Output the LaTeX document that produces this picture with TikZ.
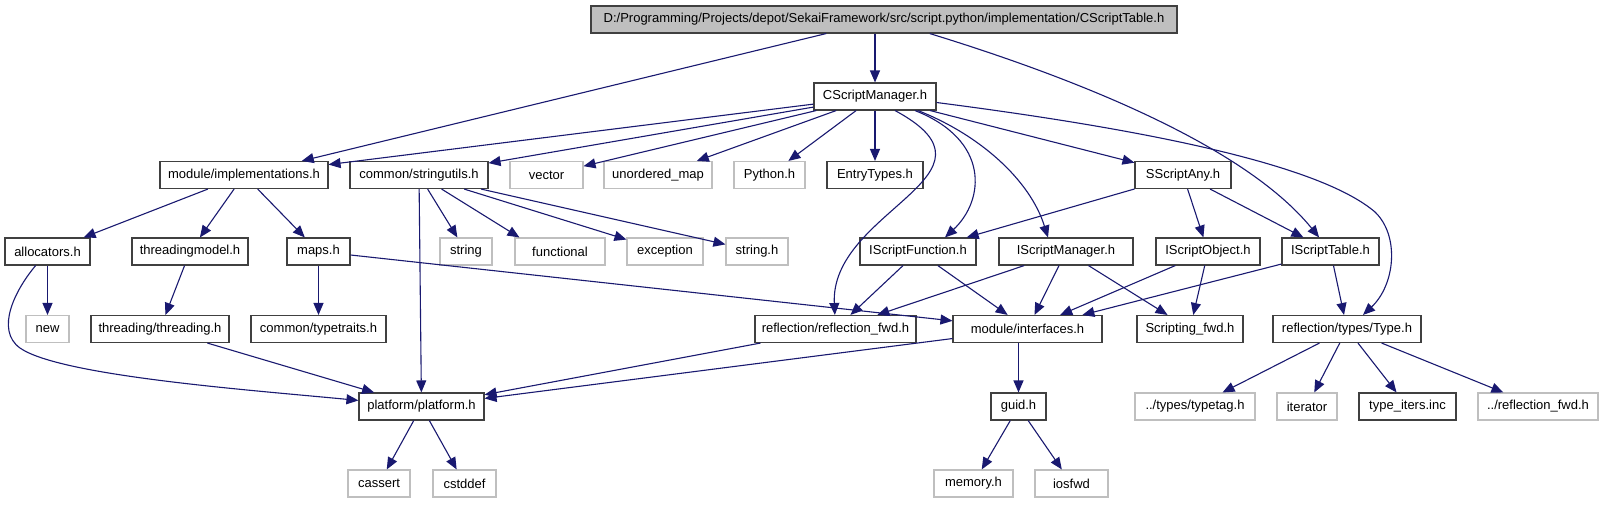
\documentclass[tikz,border=0pt]{standalone}
\usepackage{fontspec}
\setmainfont{Liberation Sans}
\usepackage{tikz}
\usetikzlibrary{arrows.meta}
\definecolor{EdgeBlue}{RGB}{25,25,112}
\definecolor{BoxGray}{RGB}{191,191,191}
\definecolor{BoxLine}{RGB}{64,64,64}

\begin{document}
\begin{tikzpicture}[x=1pt,y=-1pt,
  inc/.style={draw=BoxLine, line width=1.1pt, fill=white, minimum height=27pt, inner xsep=3pt, inner ysep=0pt, font=\fontsize{13}{15}\selectfont},
  ext/.style={inc, draw=BoxGray},
  rootbox/.style={inc, fill=BoxGray},
  edge/.style={EdgeBlue, line width=1.1pt, -{Triangle[length=12pt,width=10pt]}}]
  \fill[white, use as bounding box] (0,0) rectangle (1620,504);

  \node[rootbox, minimum width=586] (root) at (884,19.5) {D:/Programming/Projects/depot/SekaiFramework/src/script.python/implementation/CScriptTable.h};
  \node[inc, minimum width=122] (cmgr) at (875,96.5) {CScriptManager.h};

  \node[inc, minimum width=168] (impl) at (244,175) {module/implementations.h};
  \node[inc, minimum width=138] (strutil) at (419,175) {common/stringutils.h};
  \node[ext, minimum width=73] (vec) at (546.5,175) {vector};
  \node[ext, minimum width=108] (umap) at (658,175) {unordered\_map};
  \node[ext, minimum width=71] (pyh) at (769.5,175) {Python.h};
  \node[inc, minimum width=96] (entry) at (875,175) {EntryTypes.h};
  \node[inc, minimum width=96] (sany) at (1183,175) {SScriptAny.h};

  \node[inc, minimum width=85] (alloc) at (47.5,251.5) {allocators.h};
  \node[inc, minimum width=116] (tmodel) at (190,251.5) {threadingmodel.h};
  \node[inc, minimum width=63] (maps) at (318.5,251.5) {maps.h};
  \node[ext, minimum width=52] (str) at (466,251.5) {string};
  \node[ext, minimum width=90] (func) at (560,251.5) {functional};
  \node[ext, minimum width=76] (exc) at (665,251.5) {exception};
  \node[ext, minimum width=62] (strh) at (757,251.5) {string.h};
  \node[inc, minimum width=116] (isfn) at (918,251.5) {IScriptFunction.h};
  \node[inc, minimum width=134] (ismgr) at (1066,251.5) {IScriptManager.h};
  \node[inc, minimum width=104] (isobj) at (1208,251.5) {IScriptObject.h};
  \node[inc, minimum width=97] (istab) at (1330.5,251.5) {IScriptTable.h};

  \node[ext, minimum width=43] (new) at (47.5,329) {new};
  \node[inc, minimum width=138] (thr) at (160,329) {threading/threading.h};
  \node[inc, minimum width=135] (ttraits) at (318.5,329) {common/typetraits.h};
  \node[inc, minimum width=161] (rfwd) at (835.5,329) {reflection/reflection\_fwd.h};
  \node[inc, minimum width=149] (ifc) at (1027.5,329) {module/interfaces.h};
  \node[inc, minimum width=106] (sfwd) at (1190,329) {Scripting\_fwd.h};
  \node[inc, minimum width=148] (type) at (1347,329) {reflection/types/Type.h};

  \node[inc, minimum width=125] (plat) at (421.5,406.5) {platform/platform.h};
  \node[inc, minimum width=55] (guid) at (1018.5,406.5) {guid.h};
  \node[ext, minimum width=120] (ttag) at (1195,406.5) {../types/typetag.h};
  \node[ext, minimum width=60] (iter) at (1307,406.5) {iterator};
  \node[inc, minimum width=97] (titers) at (1407.5,406.5) {type\_iters.inc};
  \node[ext, minimum width=120] (rfwd2) at (1538,406.5) {../reflection\_fwd.h};

  \node[ext, minimum width=62] (cassert) at (379,483.5) {cassert};
  \node[ext, minimum width=63] (cstddef) at (464.5,483.5) {cstddef};
  \node[ext, minimum width=79] (memh) at (973.5,483.5) {memory.h};
  \node[ext, minimum width=73] (iosfwd) at (1071.5,483.5) {iosfwd};

  \foreach \a/\b in {root/impl, cmgr/impl, cmgr/strutil, cmgr/vec, cmgr/umap, cmgr/pyh, cmgr/entry, cmgr/sany,
      impl/alloc, impl/tmodel, impl/maps, alloc/new, tmodel/thr, maps/ttraits, maps/ifc, thr/plat,
      strutil/plat, strutil/str, strutil/exc, strutil/strh, sany/isfn, sany/isobj, sany/istab,
      isfn/rfwd, isfn/ifc, ismgr/rfwd, ismgr/ifc, ismgr/sfwd, isobj/ifc, isobj/sfwd, istab/ifc, istab/type,
      rfwd/plat, ifc/plat, guid/memh, guid/iosfwd, plat/cassert, plat/cstddef,
      type/ttag, type/iter, type/titers, type/rfwd2}
    \draw[edge] (\a) -- (\b);

  \draw[edge] (root.south -| cmgr) -- (cmgr);
  \draw[edge] (ifc.south -| guid) -- (guid);
  \draw[edge] (strutil) -- ([xshift=5pt]func.north west);
  \draw[edge] (root) .. controls (1055,72) and (1240,140) .. (istab);
  \draw[edge] ([xshift=20pt]cmgr.south) .. controls (1015,175) and (830,210) .. (rfwd);
  \draw[edge] ([xshift=40pt]cmgr.south) .. controls (990,140) and (985,200) .. ([xshift=27pt]isfn.north);
  \draw[edge] ([xshift=43pt]cmgr.south) .. controls (980,135) and (1030,180) .. ([xshift=-18pt]ismgr.north);
  \draw[edge] ([yshift=-6pt]cmgr.east) .. controls (1150,130) and (1320,165) .. (1375,212)
      .. controls (1400,236) and (1395,285) .. ([xshift=16pt]type.north);
  \draw[edge] (alloc) .. controls (15,290) and (-5,330) .. (20,348)
      .. controls (60,376) and (250,390) .. (plat);
\end{tikzpicture}
\end{document}
